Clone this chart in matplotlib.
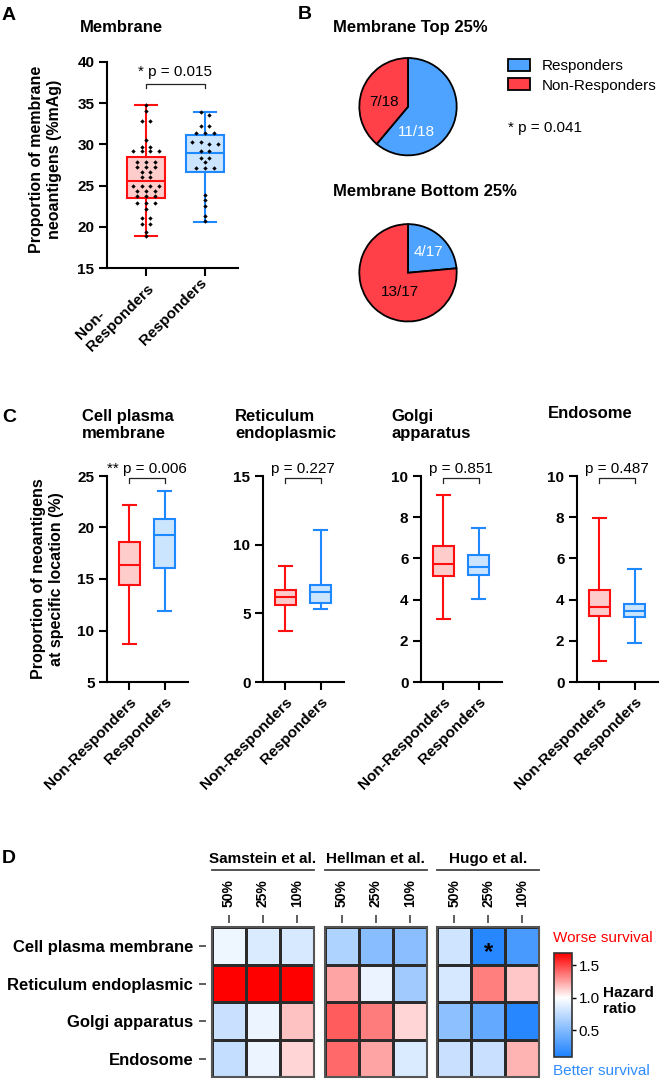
import numpy as np
import matplotlib
matplotlib.use("Agg")
import matplotlib.pyplot as plt
from matplotlib.colors import LinearSegmentedColormap, Normalize
from matplotlib.patches import Patch, Rectangle
import matplotlib.cm as cm

plt.rcParams['font.family'] = ['Liberation Sans', 'DejaVu Sans']
plt.rcParams['font.weight'] = 'bold'
plt.rcParams['axes.labelweight'] = 'bold'
plt.rcParams['font.size'] = 11

W, H = 664, 1080

# ---- data ----
groups = ['Non-Responders', 'Responders']

# panel A: proportion of membrane neoantigens (%mAg), single patients
memb_nr = [34.8, 34.1, 32.8, 32.8, 30.5, 29.7, 29.7, 29.2, 29.2, 29.2, 29.2,
           27.9, 27.9, 27.9, 27.2, 27.2, 27.2, 26.6, 26.6, 26.0, 26.0,
           25.0, 25.0, 25.0, 25.0, 24.4, 24.4, 24.4, 23.7, 23.7, 23.7,
           22.9, 22.9, 22.9, 22.2, 21.1, 21.1, 20.3, 20.3, 19.4, 18.9]
memb_r = [33.9, 33.6, 32.2, 32.2, 31.4, 31.4, 31.4, 30.3, 30.3, 30.0, 30.0,
          29.2, 29.2, 28.4, 28.4, 27.9, 27.1, 27.1, 27.1, 23.9, 23.3,
          22.5, 21.3, 20.7]
# box stats (min, q1, median, q3, max)
memb_box_nr = [18.9, 23.5, 25.6, 28.5, 34.8]
memb_box_r = [20.6, 26.6, 28.9, 31.1, 33.9]
memb_p = '* p = 0.015'

# panel B: pies
pie_labels = ['Responders', 'Non-Responders']
top25 = [11, 7]
bottom25 = [4, 13]
pie_p = '* p = 0.041'

# panel C: box stats per location (min, q1, median, q3, max)
loc_titles = ['Cell plasma\nmembrane', 'Reticulum\nendoplasmic', 'Golgi\napparatus', 'Endosome']
loc_nr = [[8.7, 14.4, 16.4, 18.6, 22.2],
          [3.7, 5.6, 6.16, 6.7, 8.48],
          [3.08, 5.13, 5.71, 6.59, 9.09],
          [1.0, 3.21, 3.63, 4.48, 7.97]]
loc_r = [[11.9, 16.1, 19.3, 20.8, 23.5],
         [5.35, 5.75, 6.52, 7.06, 11.1],
         [4.01, 5.21, 5.58, 6.15, 7.48],
         [1.9, 3.17, 3.46, 3.81, 5.5]]
loc_p = ['** p = 0.006', 'p = 0.227', 'p = 0.851', 'p = 0.487']
loc_ylim = [(5, 25), (0, 15), (0, 10), (0, 10)]
loc_ticks = [[5, 10, 15, 20, 25], [0, 5, 10, 15], [0, 2, 4, 6, 8, 10], [0, 2, 4, 6, 8, 10]]

# panel D: hazard ratios
studies = ['Samstein et al.', 'Hellman et al.', 'Hugo et al.']
cutoffs = ['50%', '25%', '10%']
locations = ['Cell plasma membrane', 'Reticulum endoplasmic', 'Golgi apparatus', 'Endosome']
hr_samstein = [[0.93, 0.85, 0.84], [1.72, 1.72, 1.72], [0.78, 0.92, 1.16], [0.76, 0.92, 1.11]]
hr_hellman = [[0.68, 0.52, 0.53], [1.24, 0.91, 0.62], [1.43, 1.35, 1.11], [1.40, 1.24, 0.85]]
hr_hugo = [[0.80, 0.13, 0.27], [0.83, 1.34, 1.15], [0.54, 0.37, 0.13], [0.78, 0.78, 1.20]]
hr_star = (2, 0, 1)  # study, row, col

red = '#FF1010'
blue = '#1E88FF'
red_fill = '#FFCCCC'
blue_fill = '#CCE5FF'
pie_blue = '#4DA3FF'
pie_red = '#FF4048'

fig = plt.figure(figsize=(W / 100, H / 100), dpi=100)


def add_ax(l, t, r, b):
    return fig.add_axes([l / W, 1 - b / H, (r - l) / W, (b - t) / H])


def ftext(x, y, s, **kw):
    return fig.text(x / W, 1 - y / H, s, **kw)


def style_axes(ax):
    for s in ['top', 'right']:
        ax.spines[s].set_visible(False)
    for s in ['left', 'bottom']:
        ax.spines[s].set_linewidth(1.5)
    ax.tick_params(width=1.5, length=5.5, labelsize=11)


def stats_of(v):
    return dict(whislo=v[0], q1=v[1], med=v[2], q3=v[3], whishi=v[4], fliers=[])


def draw_boxes(ax, boxes, width):
    for pos, (b, fc, ec) in enumerate(zip(boxes, [red_fill, blue_fill], [red, blue]), start=1):
        ax.bxp([stats_of(b)], positions=[pos], widths=width, capwidths=0.36,
               patch_artist=True, showfliers=False, manage_ticks=False,
               boxprops=dict(facecolor=fc, edgecolor=ec, linewidth=1.5),
               whiskerprops=dict(color=ec, linewidth=1.5),
               capprops=dict(color=ec, linewidth=1.5),
               medianprops=dict(color=ec, linewidth=1.5))


def bracket(ax, text, ytop, ydrop, ytext):
    tr = ax.get_xaxis_transform()
    ax.plot([1, 1, 2, 2], [ydrop, ytop, ytop, ydrop], transform=tr,
            color='#222222', lw=0.9, clip_on=False)
    ax.text(1.5, ytext, text, transform=tr, ha='center', va='baseline',
            fontweight='normal', fontsize=11)


def swarm_x(vals, center, step=0.145, gap=0.45):
    vals = np.asarray(vals)
    order = np.argsort(-vals, kind='stable')
    rows = []
    for i in order:
        if rows and vals[rows[-1][0]] - vals[i] < gap:
            rows[-1].append(i)
        else:
            rows.append([i])
    xs = np.zeros(len(vals))
    for row in rows:
        offs = (np.arange(len(row)) - (len(row) - 1) / 2) * step
        for k, o in zip(row, offs):
            xs[k] = center + o
    return xs


# ---- panel A ----
ftext(2, 20, 'A', fontsize=14, va='baseline')
axA = add_ax(107, 62, 238, 268)
style_axes(axA)
draw_boxes(axA, [memb_box_nr, memb_box_r], 0.65)
axA.scatter(swarm_x(memb_nr, 1), memb_nr, marker='D', s=5, color='black', zorder=5, linewidths=0)
axA.scatter(swarm_x(memb_r, 2), memb_r, marker='D', s=5, color='black', zorder=5, linewidths=0)
axA.set_xlim(0.34, 2.56)
axA.set_ylim(15, 40)
axA.set_yticks([15, 20, 25, 30, 35, 40])
axA.set_xticks([1, 2])
axA.set_xticklabels(['Non-\nResponders', 'Responders'], rotation=45, ha='right',
                    va='center', rotation_mode='anchor', multialignment='left')
bracket(axA, memb_p, 0.892, 0.872, 0.932)
ftext(80, 31.7, 'Membrane', fontsize=12, va='baseline')
ftext(45.5, 159, 'Proportion of membrane\nneoantigens (%mAg)', fontsize=11.5,
      rotation=90, ha='center', va='center', multialignment='center')

# ---- panel B ----
ftext(298, 19, 'B', fontsize=14, va='baseline')
pie_texts = [
    (top25, 106.7, 'Membrane Top 25%', [(0.18, -0.53), (-0.49, 0.10)], 31.7),
    (bottom25, 272.8, 'Membrane Bottom 25%', [(0.42, 0.42), (-0.16, -0.40)], 196),
]
for counts, cy, title, lpos, ty in pie_texts:
    ax = add_ax(408 - 55, cy - 55, 408 + 55, cy + 55)
    ax.pie(counts, colors=[pie_blue, pie_red], startangle=90, counterclock=False,
           wedgeprops=dict(edgecolor='black', linewidth=1.3))
    ax.set_xlim(-1.13, 1.13)
    ax.set_ylim(-1.13, 1.13)
    total = sum(counts)
    for c, (lx, ly), tc in zip(counts, lpos, ['white', 'black']):
        ax.text(lx, ly, f'{c}/{total}', ha='center', va='center', color=tc,
                fontweight='normal', fontsize=11)
    ftext(333, ty, title, fontsize=12, va='baseline')

fig.legend([Patch(facecolor=pie_blue, edgecolor='black', linewidth=1.3),
            Patch(facecolor=pie_red, edgecolor='black', linewidth=1.3)],
           pie_labels, loc='upper left', bbox_to_anchor=(508 / W, 1 - 59 / H),
           frameon=False, handlelength=1.47, handleheight=0.82, handletextpad=0.75,
           labelspacing=0.33, borderpad=0, borderaxespad=0,
           prop={'weight': 'normal', 'size': 11})
ftext(508, 131.7, pie_p, fontsize=11, fontweight='normal', va='baseline')

# ---- panel C ----
ftext(2, 422, 'C', fontsize=14, va='baseline')
c_left = [107, 263, 421, 577]
c_title_x = [82, 235, 391, 548]
for i in range(4):
    ax = add_ax(c_left[i], 476, c_left[i] + 81, 682)
    style_axes(ax)
    draw_boxes(ax, [loc_nr[i], loc_r[i]], 0.6)
    ax.set_xlim(0.37, 2.66)
    ax.set_ylim(*loc_ylim[i])
    ax.set_yticks(loc_ticks[i])
    ax.set_xticks([1, 2])
    ax.set_xticklabels(groups, rotation=45, ha='right', va='top', rotation_mode='anchor')
    bracket(ax, loc_p[i], 0.99, 0.967, 1.015)
    ftext(c_title_x[i], 409 if i < 3 else 406, loc_titles[i], fontsize=12, va='top',
          linespacing=1.15)
ftext(47.5, 579, 'Proportion of neoantigens\nat specific location (%)', fontsize=11.5,
      rotation=90, ha='center', va='center', multialignment='center')

# ---- panel D ----
ftext(2, 863, 'D', fontsize=14, va='baseline')
cmap = LinearSegmentedColormap.from_list(
    'hr', [(0.0, '#1E82FF'), (0.572, '#FFFFFF'), (1.0, '#FF0000')])
norm = Normalize(vmin=0.09, vmax=1.68)
block_x = [(211.7, 314), (325, 426.7), (437.3, 539)]
for k, (hr, (bl, br)) in enumerate(zip([hr_samstein, hr_hellman, hr_hugo], block_x)):
    ax = add_ax(bl, 927.3, br, 1077.3)
    ax.pcolormesh(np.array(hr), cmap=cmap, norm=norm, edgecolors='#2b2b2b', linewidth=0.9)
    ax.set_xlim(0, 3)
    ax.set_ylim(4, 0)
    for s in ax.spines.values():
        s.set_visible(False)
    ax.add_patch(Rectangle((0, 0), 1, 1, transform=ax.transAxes, fill=False,
                           edgecolor='#555555', linewidth=1.5, clip_on=False))
    ax.spines['top'].set_position(('outward', 3))
    ax.spines['left'].set_position(('outward', 4))
    ax.xaxis.tick_top()
    ax.set_xticks([0.5, 1.5, 2.5])
    ax.set_xticklabels(cutoffs, rotation=90, fontsize=10)
    ax.tick_params(axis='x', length=5.8, width=1.1, pad=5.8, color='#333333')
    if k == 0:
        ax.set_yticks([0.5, 1.5, 2.5, 3.5])
        ax.set_yticklabels(locations, fontsize=12)
        ax.tick_params(axis='y', length=5, width=1.1, pad=4.3, color='#333333')
    else:
        ax.set_yticks([])
    ax.plot([0, 1], [1.382, 1.382], transform=ax.transAxes, color='#444444',
            lw=1.3, clip_on=False)
    ax.text(0.5, 1.4287, studies[k], transform=ax.transAxes, ha='center',
            va='baseline', fontsize=11)
    if hr_star[0] == k:
        ax.text(hr_star[2] + 0.5, hr_star[1] + 0.68, '*', ha='center', va='center',
                fontsize=17)

cax = add_ax(554, 953.3, 571.7, 1056.7)
cb = fig.colorbar(cm.ScalarMappable(norm=norm, cmap=cmap), cax=cax, ticks=[0.5, 1.0, 1.5])
cb.ax.set_yticklabels(['0.5', '1.0', '1.5'])
cb.outline.set_edgecolor('#333333')
cb.outline.set_linewidth(1.2)
cax.tick_params(length=3, width=1, pad=2, labelsize=11)
for t in cax.get_yticklabels():
    t.set_fontweight('normal')
ftext(552.7, 941.7, 'Worse survival', color='#FF0000', fontweight='normal',
      fontsize=11, va='baseline')
ftext(552.7, 1075, 'Better survival', color='#2F8CFF', fontweight='normal',
      fontsize=11, va='baseline')
ftext(603.3, 986, 'Hazard\nratio', fontsize=11, va='top', linespacing=1.2)

fig.savefig('out.png', dpi=100)
